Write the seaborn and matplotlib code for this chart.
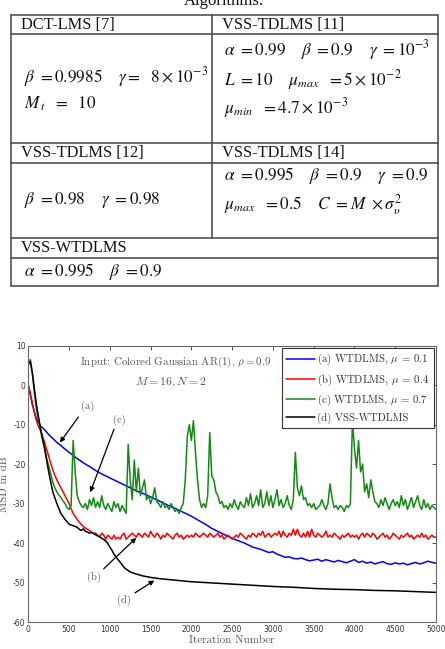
import numpy as np
import pandas as pd

import matplotlib
matplotlib.use('Agg')
import matplotlib.pyplot as plt
import seaborn as sns

# ---- data ----
it_fine = list(range(0, 5001, 25))
it_blue = list(range(0, 5001, 50))
it_black = [0, 25, 50, 75, 100, 125, 150, 175, 200, 250, 300, 350, 400, 450, 500,
            550, 600, 625, 650, 675, 700, 725, 750, 775, 800, 825, 850, 875, 900,
            925, 950, 975, 1000, 1025, 1050, 1075, 1100, 1125, 1150, 1175, 1200,
            1250, 1300, 1400, 1500, 1600, 1800, 2000, 2250, 2500, 2750, 3000,
            3250, 3500, 3750, 4000, 4250, 4500, 4750, 5000]

msd_a = [0, -5, -8.5, -10.3, -11.3, -12.5, -13.5, -14.5, -15.3, -16.2, -17, -17.8,
         -18.6, -19.3, -20, -20.6, -21.3, -21.9, -22.5, -23, -23.5, -24, -24.5,
         -25, -25.5, -26, -26.5, -27, -27.4, -27.8, -28.3, -28.8, -29.3, -29.8,
         -30.3, -30.8, -31.2, -31.7, -32.2, -32.7, -33.2, -33.8, -34.4, -35,
         -35.6, -36.3, -36.8, -37.3, -37.8, -38.3, -38.8, -39.2, -39.6, -40,
         -40.5, -41, -41.3, -41.6, -42, -42.4, -42.2, -42.8, -43.2, -43.6, -43.5,
         -43.9, -44, -43.8, -44.2, -44.5, -44.3, -44.1, -44.6, -44.2, -44.5,
         -44.8, -44.4, -44.7, -45, -44.6, -44.2, -44.9, -44.6, -45.1, -44.8,
         -45.3, -45, -44.7, -45.2, -45.4, -45, -45.3, -45.1, -45.5, -45.2, -44.9,
         -45.3, -45, -44.6, -44.9, -45.1]

msd_b = [0, -2, -4.5, -7, -9, -10.5, -11.5, -13, -14.5, -16.3, -18, -19.8, -21.5,
         -22.8, -24, -25, -26, -27, -28, -29, -30, -31.3, -32.5, -33.3, -34, -34.7,
         -35.3, -35.8, -36.2, -36.5, -36.8, -37.2, -37.5, -37.5, -38, -38.5, -37.5, -38,
         -39, -38, -38.5, -39, -38, -39, -38.5, -39, -38, -37.5, -39, -38.5, -38,
         -37.5, -38, -38.5, -37.5, -38, -38.5, -37.5, -38, -38.5, -37, -38, -38.5,
         -37.5, -38, -39, -38, -38.5, -37.5, -38, -38.5, -39, -38, -37.5, -38.5,
         -38, -39, -38.5, -38, -38.5, -38, -38.5, -37.5, -38, -38.5, -38, -37.5,
         -38, -38.5, -37.5, -38, -38.5, -38, -37.5, -38.5, -38, -39, -38.5, -38,
         -38.5, -39, -38.5, -38, -38.5, -37.5, -38, -38.5, -39, -38, -38.5, -37.5,
         -38, -38.5, -37.5, -38, -37, -38.5, -38, -37.5, -38.5, -38, -37.5, -38,
         -37, -38.5, -37, -38, -38.5, -37.5, -38, -36.5, -38, -36.5, -38, -38.5,
         -37.5, -38.5, -37, -38.5, -36.5, -38, -38.5, -37.5, -38, -38.5, -38, -37,
         -38.5, -38, -38.5, -37.5, -38, -38.5, -39, -38, -38.5, -38, -37.5, -38.5,
         -38, -38.5, -38, -39, -38, -37.5, -38.5, -37.5, -38, -38.5, -37.5, -38,
         -39, -38.5, -38, -37.5, -38.5, -38, -39, -38.5, -37.5, -38, -38.5, -39,
         -38, -38.5, -38, -37.5, -38.5, -38, -39, -38.5, -38, -38.5, -37.5, -38.5,
         -38, -39, -38.5, -38, -38.5, -38.5]

msd_c = [5, 6.5, 3, -2, -6, -9, -11.5, -14, -16, -18.5, -20.5, -22.5, -24.5, -26,
         -27, -27.8, -28.5, -29.3, -30, -31, -31.5, -30.5, -14, -22, -28, -29.5,
         -30.5, -31, -30, -31.5, -29, -30.5, -28.5, -31, -29.5, -31, -28, -30.5, -31.5,
         -30, -31, -32, -29.5, -31, -30, -32, -30.5, -31.5, -32.5, -15, -24, -29,
         -19, -27, -21, -28, -26, -24, -29, -28, -30, -28.5, -26, -29.5, -30, -31,
         -29.5, -31, -30.5, -31.5, -30, -31, -32, -31.5, -32.5, -31, -30, -24, -13,
         -10, -14, -9, -17, -24, -29, -31, -30, -31, -28, -12, -23, -24, -27, -28,
         -30, -29.5, -31, -30.5, -31.5, -30, -31, -29, -30.5, -31.5, -29.5, -30.5,
         -31, -28.5, -30.5, -27.5, -31, -30, -28, -30.5, -26.5, -31, -30, -27,
         -30.5, -28, -31, -29, -26.5, -30.5, -29, -31, -30, -28, -30.5, -31.5, -29,
         -17, -26, -28, -25.5, -29, -28.5, -30.5, -30, -31, -30, -31.5, -31, -30.5,
         -29, -30.5, -31.5, -30, -25, -28.5, -31, -30.5, -31.5, -30.5, -31, -32,
         -30.5, -31, -30, -9, -16, -21, -14, -22, -20, -27, -25, -28.5, -24, -27,
         -29.5, -30, -31, -29, -30.5, -28.5, -30, -31.5, -30, -29, -30.5, -29.5,
         -31, -28, -30.5, -29, -31.5, -30, -28.5, -31, -29.5, -28, -30.5, -31.5,
         -29, -31, -30, -31.5, -30.5, -31, -31.5]

msd_d = [5.5, 6, 3, -1, -5, -8, -11, -13.5, -16, -22, -27, -30, -32.5, -34, -35.2,
         -35.6, -36, -36.5, -36.8, -36.4, -37, -37.2, -37.5, -37.3, -37.6, -37.9,
         -38.2, -38.4, -38.8, -39.1, -39.5, -40.1, -41, -41.8, -42.8, -43.5, -44.2,
         -44.8, -45.5, -46.2, -46.6, -47.3, -47.7, -48.3, -48.7, -49, -49.4, -49.8,
         -50.1, -50.4, -50.7, -51, -51.2, -51.5, -51.7, -51.8, -52, -52.1, -52.3,
         -52.5]

labels = [r'(a) WTDLMS, $\mu$ = 0.1', r'(b) WTDLMS, $\mu$ = 0.4',
          r'(c) WTDLMS, $\mu$ = 0.7', r'(d) VSS-WTDLMS']
colors = ['#0000ff', '#ff0000', '#138a13', '#000000']

# table text
headers = ['DCT-LMS [7]', 'VSS-TDLMS [11]', 'VSS-TDLMS [12]', 'VSS-TDLMS [14]', 'VSS-WTDLMS']
cell_dct = [r'$\beta\ =0.9985\quad\ \gamma =\ \ 8\times10^{-3}$', r'$M_{\,t}\ \ =\ \ 10$']
cell_11 = [r'$\alpha\ =0.99\quad\ \beta\ =0.9\quad\ \gamma\ =10^{-3}$',
           r'$L\ =10\quad\ \mu_{max}\ \ =5\times10^{-2}$',
           r'$\mu_{min}\ \ =4.7\times10^{-3}$']
cell_12 = [r'$\beta\ =0.98\quad\ \gamma\ =0.98$']
cell_14 = [r'$\alpha\ =0.995\quad\ \beta\ =0.9\quad\ \gamma\ =0.9$',
           r'$\mu_{max}\ \ =0.5\quad\ C\ =M\ \times\sigma^2_{\upsilon}$']
cell_wt = [r'$\alpha\ =0.995\quad\ \beta\ =0.9$']

sns.set_style('white')
plt.rcParams['font.family'] = ['DejaVu Sans']
plt.rcParams['axes.unicode_minus'] = False

fig = plt.figure(figsize=(4.45, 6.49), dpi=100)

# ---- table drawn in pixel coordinates ----
tab = fig.add_axes([0, 0, 1, 1])
tab.set_xlim(0, 445)
tab.set_ylim(649, 0)
tab.axis('off')
lc = '#444444'
for y in [15, 34, 143, 163, 238, 258, 286]:
    tab.plot([11, 438], [y, y], color=lc, lw=1.1)
tab.plot([11, 11], [15, 286], color=lc, lw=1.1)
tab.plot([438, 438], [15, 286], color=lc, lw=1.1)
tab.plot([212, 212], [15, 238], color=lc, lw=1.1)

serif = dict(family='Liberation Serif', math_fontfamily='stix', color='#111111')
tab.text(224, 5, 'Algorithms.', ha='center', va='baseline', fontsize=12, **serif)
for (x, y), h in zip([(21, 25), (222, 25), (21, 153), (222, 153), (21, 248)], headers):
    tab.text(x, y, h, ha='left', va='center', fontsize=11.8, **serif)
for x, ys, lines in [(24, [77, 104], cell_dct), (224, [50, 80, 108], cell_11),
                     (24, [200], cell_12), (224, [176, 205], cell_14),
                     (24, [271], cell_wt)]:
    for y, s in zip(ys, lines):
        tab.text(x, y, s, ha='left', va='center', fontsize=12.4, **serif)

# ---- MSD plot ----
ax = fig.add_axes([28.3 / 445, 1 - 622 / 649, (436 - 28.3) / 445, (622 - 345.7) / 649])
series = [(it_blue, msd_a), (it_fine, msd_b), (it_fine, msd_c), (it_black, msd_d)]
for (xs, ys), lab, c in zip(series, labels, colors):
    sns.lineplot(x=xs, y=ys, color=c, lw=1.1, label=lab, ax=ax)

ax.set_xlim(0, 5000)
ax.set_ylim(-60, 10)
ax.set_xticks(np.arange(0, 5001, 500))
ax.set_yticks(np.arange(-60, 11, 10))
ax.tick_params(direction='in', length=3, width=0.6, labelsize=5.5, colors='#333333',
               top=True, right=True, pad=2)
for sp in ax.spines.values():
    sp.set_color('#666666')
    sp.set_linewidth(0.8)

cm = dict(family='cmr10', math_fontfamily='cm', color='#555555')
ax.set_xlabel('Iteration Number', fontsize=8, labelpad=1, **cm)
ax.set_ylabel('MSD in dB', fontsize=8, labelpad=3, **cm)

ax.text(1807, 5.7, r'Input: Colored Gaussian AR(1), $\rho = 0.9$', ha='center',
        va='center', fontsize=7.9, **cm)
ax.text(1746, 0.7, r'$M = 16, N = 2$', ha='center', va='center', fontsize=8.5, **cm)

ann = [('(a)', (724, -5.4), (634, -7.5), (368, -15.1)),
       ('(c)', (1116, -8.8), (1063, -10.5), (748, -27.8)),
       ('(b)', (810, -48.6), (900, -47.0), (1349, -38.2)),
       ('(d)', (1173, -54.4), (1280, -53.0), (1574, -49.1))]
for lab, tpos, tail, head in ann:
    ax.text(tpos[0], tpos[1], lab, ha='center', va='center', fontsize=7.5, **cm)
    ax.annotate('', xy=head, xytext=tail,
                arrowprops=dict(arrowstyle='-|>', color='k', lw=0.9, mutation_scale=7))

leg = ax.legend(loc='upper right', handlelength=2.6, handletextpad=0.25,
                borderpad=0.4, labelspacing=0.45, fancybox=False, framealpha=1,
                borderaxespad=0.2, prop=dict(family='cmr10', size=7.8))
leg.get_frame().set_edgecolor('#333333')
leg.get_frame().set_linewidth(0.8)
for t in leg.get_texts():
    t.set_color('#333333')
    t.set_math_fontfamily('cm')

fig.savefig('out.png', dpi=100)
